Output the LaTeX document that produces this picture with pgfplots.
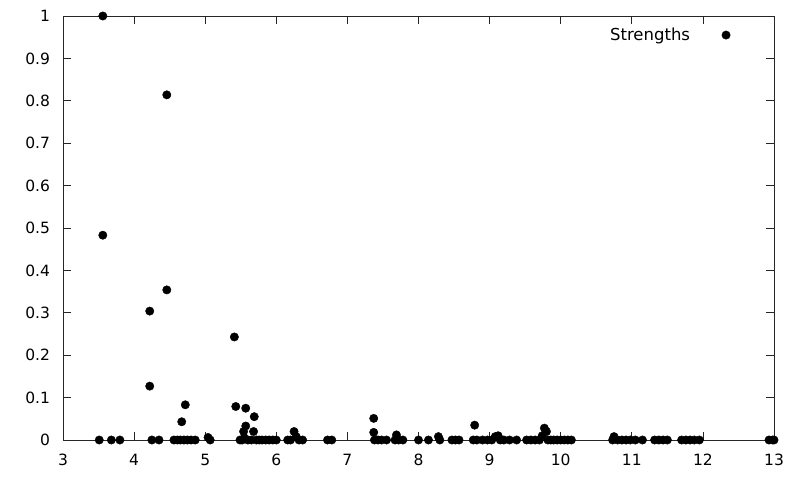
\documentclass[border=0pt]{standalone}
\usepackage{pgfplots}
\pgfplotsset{compat=1.18}
\usepackage{fontspec}
\setmainfont{DejaVu Sans}

\begin{document}
\begin{tikzpicture}[x=1pt,y=1pt]
\useasboundingbox (-63,-38) rectangle (737,440);
\begin{axis}[
    at={(0,0)}, anchor=south west,
    scale only axis,
    width=711pt, height=424pt,
    xmin=3, xmax=13,
    ymin=0, ymax=1,
    xtick={3,4,...,13},
    ytick={0,0.1,...,1},
    tick align=inside,
    major tick length=8pt,
    axis line style={line width=0.8pt, black!85},
    tick style={line width=0.8pt, black!85},
    /pgf/number format/assume math mode=true,
    /pgf/number format/fixed,
    ticklabel style={font=\fontsize{15.5}{18}\selectfont},
    yticklabel style={/pgf/number format/precision=1, xshift=-9.5pt},
    xticklabel style={yshift=-10.5pt},
    clip=false,
    legend plot pos=right,
    legend cell align=right,
    legend image code/.code={%
        \path[draw=none, fill=none] (0pt,-4pt) rectangle (40pt,4pt);
        \fill[black] (34pt,0pt) circle (4.2pt);},
    legend style={draw=none, fill=none, inner sep=0pt, outer sep=0pt,
        at={(rel axis cs:0.941,0.955)}, anchor=east,
        font=\fontsize{16.5}{19}\selectfont},
]
\addplot[only marks, mark=*, mark size=4.2pt, black] coordinates {
(3.51,0) (3.56,1.0) (3.56,0.483) (3.68,0) (3.80,0)
(4.22,0.304) (4.22,0.127) (4.25,0) (4.35,0)
(4.46,0.814) (4.46,0.354)
(4.56,0) (4.61,0) (4.65,0) (4.67,0.043) (4.70,0) (4.72,0.083) (4.75,0) (4.80,0) (4.86,0)
(5.04,0.006) (5.07,0)
(5.41,0.243) (5.43,0.079) (5.49,0) (5.52,0) (5.54,0.02) (5.55,0.005)
(5.57,0.075) (5.57,0.033) (5.60,0) (5.65,0) (5.68,0.02) (5.69,0.055)
(5.72,0) (5.76,0) (5.80,0) (5.85,0) (5.90,0) (5.95,0) (6.00,0)
(6.16,0) (6.20,0) (6.25,0.02) (6.28,0.008) (6.32,0) (6.37,0)
(6.72,0) (6.78,0)
(7.37,0.051) (7.37,0.018) (7.38,0) (7.43,0) (7.48,0) (7.55,0)
(7.67,0) (7.69,0.012) (7.72,0) (7.78,0)
(8.00,0) (8.14,0) (8.28,0.008) (8.30,0)
(8.47,0) (8.52,0) (8.57,0)
(8.77,0) (8.79,0.035) (8.82,0) (8.90,0) (8.97,0) (9.03,0) (9.08,0.008) (9.12,0.01)
(9.15,0) (9.20,0) (9.28,0) (9.38,0)
(9.52,0) (9.58,0) (9.64,0) (9.70,0) (9.74,0.01) (9.77,0.028) (9.80,0.02) (9.82,0)
(9.86,0) (9.90,0) (9.95,0) (10.00,0) (10.05,0) (10.10,0) (10.15,0)
(10.73,0) (10.75,0.008) (10.80,0) (10.86,0) (10.92,0) (10.98,0) (11.05,0) (11.15,0)
(11.32,0) (11.38,0) (11.44,0) (11.50,0)
(11.70,0) (11.76,0) (11.82,0) (11.88,0) (11.95,0)
(12.93,0) (12.98,0) (13.0,0)
};
\addlegendentry{Strengths}
\end{axis}
\end{tikzpicture}
\end{document}
